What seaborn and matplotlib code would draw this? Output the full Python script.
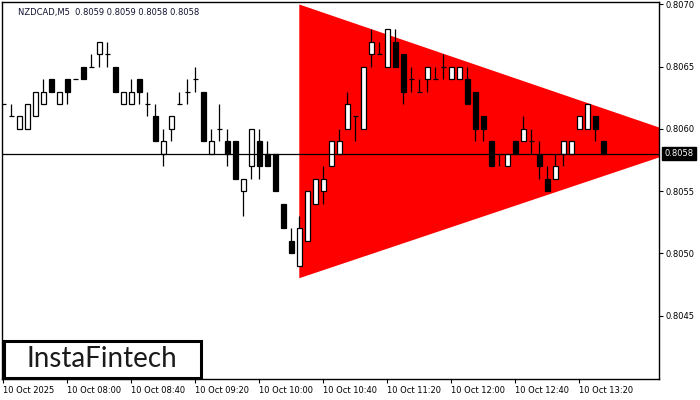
import matplotlib
matplotlib.use("Agg")
import matplotlib.pyplot as plt
import matplotlib.patches as mpatches
import numpy as np
import pandas as pd
import seaborn as sns

# ---------------- data ----------------
symbol_title = "NZDCAD,M5  0.8059 0.8059 0.8058 0.8058"
opens = [0.8062, 0.8061, 0.8060, 0.8060, 0.8061, 0.8062, 0.8064, 0.8062, 0.8064, 0.8064,
         0.8065, 0.8065, 0.8066, 0.8066, 0.8065, 0.8062, 0.8062, 0.8064, 0.8062, 0.8061,
         0.8058, 0.8060, 0.8062, 0.8063, 0.8064, 0.8063, 0.8058, 0.8060, 0.8059, 0.8059,
         0.8055, 0.8057, 0.8059, 0.8058, 0.8058, 0.8054, 0.8051, 0.8049, 0.8051, 0.8054,
         0.8055, 0.8057, 0.8058, 0.8060, 0.8061, 0.8060, 0.8066, 0.8066, 0.8065, 0.8067,
         0.8066, 0.8064, 0.8063, 0.8064, 0.8064, 0.8065, 0.8064, 0.8064, 0.8064, 0.8063,
         0.8061, 0.8059, 0.8058, 0.8057, 0.8059, 0.8059, 0.8059, 0.8058, 0.8056, 0.8056,
         0.8058, 0.8058, 0.8060, 0.8060, 0.8061, 0.8059]
highs = [0.8062, 0.8062, 0.8061, 0.8062, 0.8063, 0.8064, 0.8064, 0.8063, 0.8064, 0.8064,
         0.8065, 0.8066, 0.8067, 0.8067, 0.8065, 0.8063, 0.8064, 0.8064, 0.8063, 0.8062,
         0.8060, 0.8061, 0.8063, 0.8064, 0.8065, 0.8063, 0.8060, 0.8062, 0.8060, 0.8059,
         0.8056, 0.8060, 0.8060, 0.8059, 0.8058, 0.8054, 0.8052, 0.8053, 0.8055, 0.8056,
         0.8057, 0.8059, 0.8060, 0.8063, 0.8061, 0.8065, 0.8068, 0.8067, 0.8068, 0.8068,
         0.8066, 0.8065, 0.8064, 0.8065, 0.8065, 0.8066, 0.8065, 0.8065, 0.8065, 0.8063,
         0.8061, 0.8059, 0.8058, 0.8058, 0.8059, 0.8061, 0.8060, 0.8059, 0.8057, 0.8058,
         0.8059, 0.8059, 0.8061, 0.8062, 0.8061, 0.8059]
lows = [0.8062, 0.8061, 0.8060, 0.8060, 0.8061, 0.8062, 0.8063, 0.8062, 0.8062, 0.8064,
        0.8064, 0.8065, 0.8065, 0.8065, 0.8063, 0.8062, 0.8062, 0.8062, 0.8061, 0.8059,
        0.8057, 0.8059, 0.8062, 0.8062, 0.8063, 0.8059, 0.8058, 0.8059, 0.8057, 0.8056,
        0.8053, 0.8056, 0.8056, 0.8057, 0.8055, 0.8052, 0.8050, 0.8049, 0.8051, 0.8054,
        0.8054, 0.8057, 0.8058, 0.8060, 0.8059, 0.8060, 0.8065, 0.8066, 0.8065, 0.8065,
        0.8062, 0.8063, 0.8063, 0.8063, 0.8064, 0.8064, 0.8064, 0.8064, 0.8062, 0.8059,
        0.8059, 0.8057, 0.8057, 0.8057, 0.8058, 0.8059, 0.8058, 0.8056, 0.8055, 0.8056,
        0.8057, 0.8058, 0.8060, 0.8060, 0.8059, 0.8058]
closes = [0.8062, 0.8061, 0.8061, 0.8062, 0.8063, 0.8063, 0.8063, 0.8063, 0.8063, 0.8064,
          0.8064, 0.8065, 0.8067, 0.8066, 0.8063, 0.8063, 0.8063, 0.8063, 0.8062, 0.8059,
          0.8059, 0.8061, 0.8062, 0.8063, 0.8064, 0.8059, 0.8059, 0.8060, 0.8058, 0.8056,
          0.8056, 0.8060, 0.8057, 0.8057, 0.8055, 0.8052, 0.8050, 0.8052, 0.8055, 0.8056,
          0.8056, 0.8059, 0.8059, 0.8062, 0.8061, 0.8065, 0.8067, 0.8066, 0.8068, 0.8065,
          0.8063, 0.8064, 0.8063, 0.8065, 0.8064, 0.8065, 0.8065, 0.8065, 0.8062, 0.8060,
          0.8060, 0.8057, 0.8058, 0.8058, 0.8058, 0.8060, 0.8059, 0.8057, 0.8055, 0.8057,
          0.8059, 0.8059, 0.8061, 0.8062, 0.8060, 0.8058]
bid_price = 0.8058
bid_label = "0.8058"

# triangle pattern (bar index, price)
pattern_bar = [37, 37, 87.5]
pattern_price = [0.80700, 0.80480, 0.80589]

time_labels = ["10 Oct 2025", "10 Oct 08:00", "10 Oct 08:40", "10 Oct 09:20",
               "10 Oct 10:00", "10 Oct 10:40", "10 Oct 11:20", "10 Oct 12:00",
               "10 Oct 12:40", "10 Oct 13:20"]
time_label_bars = [0, 8, 16, 24, 32, 40, 48, 56, 64, 72]
price_ticks = [0.8045, 0.8050, 0.8055, 0.8060, 0.8065, 0.8070]
logo_text = "InstaFintech"

# ---------------- figure ----------------
sns.set_theme(style="white")
plt.rcParams['font.family'] = ['DejaVu Sans']

df = pd.DataFrame({"bar": np.arange(len(opens)), "open": opens, "high": highs,
                   "low": lows, "close": closes})

fig = plt.figure(figsize=(7, 4), dpi=100)
fig.patch.set_facecolor("white")
ax = fig.add_axes([2 / 700, 21 / 400, 657 / 700, 377 / 400])
ax.set_facecolor("white")

# red triangle
ax.add_patch(mpatches.Polygon(list(zip(pattern_bar, pattern_price)), closed=True,
                              facecolor="#ff0000", edgecolor="none", zorder=1))

bw = 0.56
up = df[df.close > df.open]
dn = df[df.close < df.open]
dj = df[df.close == df.open]

ax.vlines(df.bar, df.low, df.high, color="black", linewidth=0.9, zorder=2)
ax.bar(up.bar, up.close - up.open, bottom=up.open, width=bw, color="white",
       edgecolor="black", linewidth=0.9, zorder=3)
ax.bar(dn.bar, dn.open - dn.close, bottom=dn.close, width=bw, color="black",
       edgecolor="black", linewidth=0.9, zorder=3)
ax.hlines(dj.open, dj.bar - bw / 2, dj.bar + bw / 2, color="black", linewidth=0.9, zorder=3)

ax.axhline(bid_price, color="black", linewidth=0.9, zorder=4)

ax.set_xlim(-0.16, 81.96)
ax.set_ylim(0.80399, 0.80702)

# axes styling
for s in ax.spines.values():
    s.set_color("black")
    s.set_linewidth(1.0)
    s.set_visible(True)

ax.yaxis.tick_right()
ax.set_yticks(price_ticks)
ax.set_yticklabels([f"{p:.4f}" for p in price_ticks])
ax.tick_params(axis="y", which="both", right=True, left=False, direction="out",
               length=3, width=0.8, color="black", labelsize=6, pad=2,
               labelcolor="black")
ax.set_xticks(time_label_bars)
ax.set_xticklabels(time_labels, ha="left")
ax.tick_params(axis="x", which="both", bottom=True, direction="out", length=3,
               width=0.8, color="black", labelsize=6, pad=2, labelcolor="black")
for lbl in ax.get_xticklabels():
    lbl.set_horizontalalignment("left")
    lbl.set_x(0)
ax.grid(False)
ax.set_xlabel("")
ax.set_ylabel("")

# bid price label
ax.annotate(bid_label, xy=(1.0, bid_price), xycoords=("axes fraction", "data"),
            xytext=(4, 0), textcoords="offset points", ha="left", va="center",
            fontsize=6, color="white",
            bbox=dict(boxstyle="square,pad=0.25", facecolor="black", edgecolor="black"),
            annotation_clip=False, zorder=6)

# title
fig.text(18 / 700, 1 - 13 / 400, symbol_title, fontsize=6, color="#101030",
         ha="left", va="center")

# logo box
fig.patches.append(mpatches.Rectangle((4 / 700, 1 - 378 / 400), 197 / 700, 37 / 400,
                                      transform=fig.transFigure, facecolor="white",
                                      edgecolor="black", linewidth=2.2, zorder=10))
fig.text(102 / 700, 1 - 359 / 400, logo_text, fontsize=20, family=["Lato", "DejaVu Sans"],
         color="#1a1a1a", ha="center", va="center", zorder=11)

fig.savefig("out.png", dpi=100, facecolor="white")
